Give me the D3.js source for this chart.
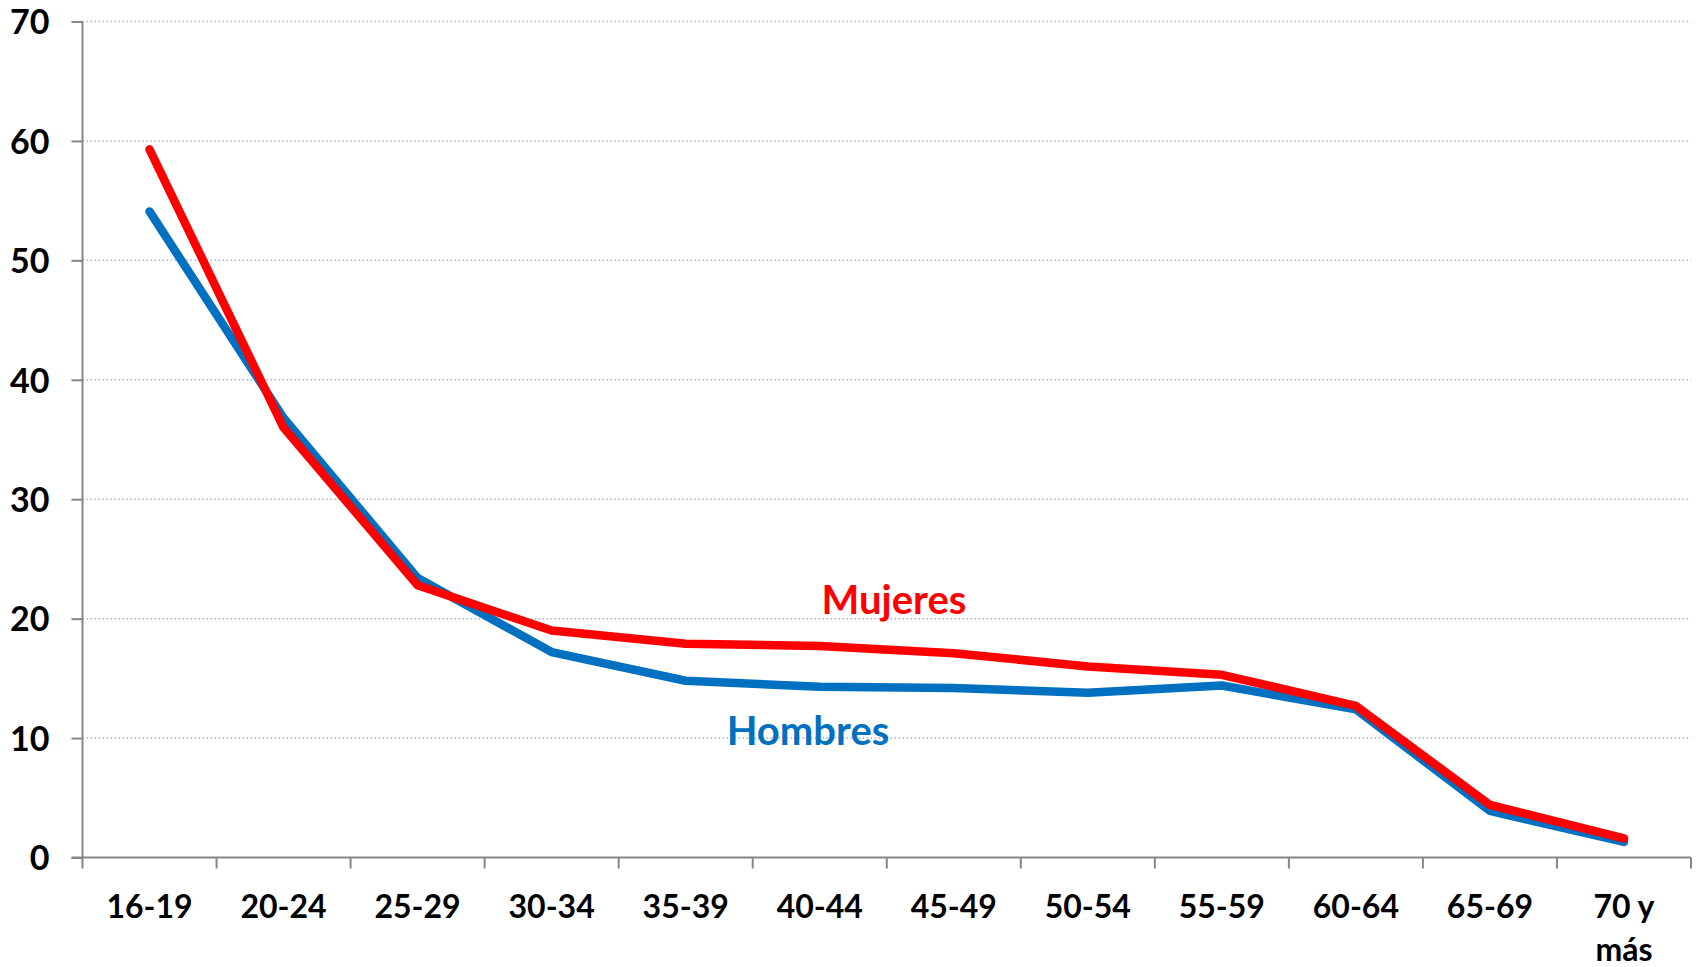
<!DOCTYPE html>
<html>
<head>
<meta charset="utf-8">
<script src="https://cdn.jsdelivr.net/npm/d3@7"></script>
<style>
  body { margin: 0; background: #fff; }
  svg { display: block; font-family: Lato, "Open Sans", sans-serif; }
  .axis text { font-family: Lato, "Open Sans", sans-serif; font-weight: bold; font-size: 32px; fill: #000; }
  .axis.yaxis text { font-size: 34px; }
</style>
</head>
<body>
<svg></svg>
<script>
var categories = ["16-19", "20-24", "25-29", "30-34", "35-39", "40-44", "45-49", "50-54", "55-59", "60-64", "65-69", "70 y más"];
var mujeres = [59.3, 36.0, 22.8, 19.0, 17.9, 17.7, 17.1, 16.0, 15.3, 12.7, 4.4, 1.6];
var hombres = [54.1, 36.8, 23.4, 17.2, 14.8, 14.3, 14.2, 13.8, 14.4, 12.4, 3.9, 1.3];
var yTicks = [0, 10, 20, 30, 40, 50, 60, 70];

var margin = {top: 21.5, right: 9, bottom: 109.5, left: 82.5},
    width = 1700 - margin.left - margin.right,
    height = 967 - margin.top - margin.bottom;

var svg = d3.select("svg")
    .attr("width", 1700)
    .attr("height", 967)
  .append("g")
    .attr("transform", "translate(" + margin.left + "," + margin.top + ")");

var x = d3.scaleBand().domain(categories).range([0, width]);
var y = d3.scaleLinear().domain([0, 70]).range([height, 0]);

// gridlines
svg.selectAll(".grid")
    .data(yTicks.filter(function(d) { return d > 0; }))
  .enter().append("line")
    .attr("class", "grid")
    .attr("x1", 0)
    .attr("x2", width)
    .attr("y1", function(d) { return y(d); })
    .attr("y2", function(d) { return y(d); })
    .style("stroke", "#9db8e6")
    .style("stroke-width", 1.5)
    .style("stroke-dasharray", "1.5,2.5");

// Y axis
var yAxis = svg.append("g")
    .attr("class", "axis yaxis")
    .call(d3.axisLeft(y).tickValues(yTicks).tickSize(11).tickPadding(22));
yAxis.select(".domain").style("stroke", "#868686").style("stroke-width", 2).attr("d", "M0," + height + "V0");
yAxis.selectAll(".tick line").style("stroke", "#868686").style("stroke-width", 2);
yAxis.selectAll(".tick text").attr("dy", "0.36em");

// X axis (ticks at category boundaries)
var xg = svg.append("g")
    .attr("class", "axis")
    .attr("transform", "translate(0," + height + ")");
xg.append("line")
    .attr("x1", -11).attr("x2", width)
    .style("stroke", "#868686").style("stroke-width", 2);
xg.selectAll(".xtick")
    .data(categories.concat([null]))
  .enter().append("line")
    .attr("class", "xtick")
    .attr("x1", function(d, i) { return i * x.step(); })
    .attr("x2", function(d, i) { return i * x.step(); })
    .attr("y1", 0).attr("y2", 11)
    .style("stroke", "#868686").style("stroke-width", 2);

var labels = xg.selectAll(".xlabel")
    .data(categories)
  .enter().append("text")
    .attr("class", "xlabel")
    .attr("text-anchor", "middle")
    .attr("x", function(d) { return x(d) + x.bandwidth() / 2; })
    .attr("y", 60);
labels.each(function(d) {
  var t = d3.select(this);
  var parts = d === "70 y más" ? ["70 y", "más"] : [d];
  parts.forEach(function(p, i) {
    t.append("tspan")
      .attr("x", x(d) + x.bandwidth() / 2)
      .attr("dy", i === 0 ? 0 : 43)
      .text(p);
  });
});

// lines
var line = function(values) {
  return d3.line()
      .x(function(d, i) { return x(categories[i]) + x.bandwidth() / 2; })
      .y(function(d) { return y(d); })(values);
};

svg.append("path")
    .attr("d", line(hombres))
    .style("fill", "none")
    .style("stroke", "#0070c0")
    .style("stroke-width", 8.5)
    .style("stroke-linecap", "round")
    .style("stroke-linejoin", "round");

svg.append("path")
    .attr("d", line(mujeres))
    .style("fill", "none")
    .style("stroke", "#ff0000")
    .style("stroke-width", 8.5)
    .style("stroke-linecap", "round")
    .style("stroke-linejoin", "round");

// series labels
svg.append("text")
    .attr("x", 894 - margin.left)
    .attr("y", 614 - margin.top)
    .attr("text-anchor", "middle")
    .style("font-weight", "bold")
    .style("font-size", "40px")
    .style("fill", "#ff0000")
    .text("Mujeres");

svg.append("text")
    .attr("x", 808 - margin.left)
    .attr("y", 745 - margin.top)
    .attr("text-anchor", "middle")
    .style("font-weight", "bold")
    .style("font-size", "40px")
    .style("fill", "#0070c0")
    .text("Hombres");
</script>
</body>
</html>
